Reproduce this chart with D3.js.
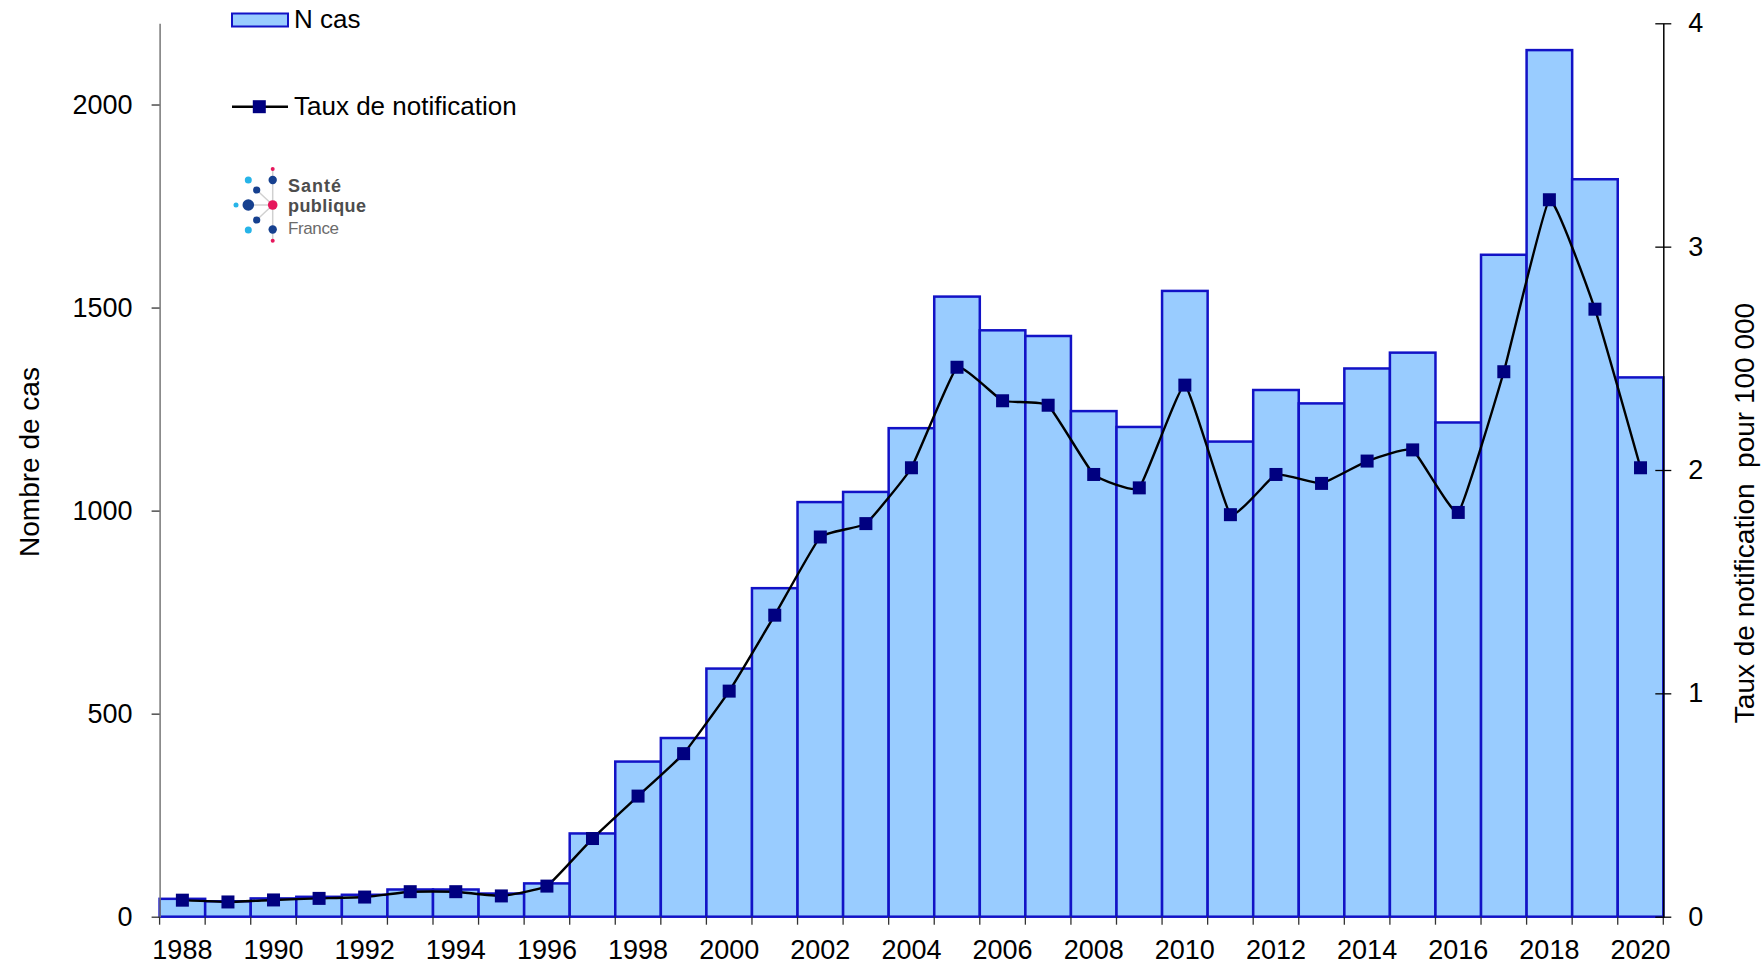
<!DOCTYPE html>
<html>
<head>
<meta charset="utf-8">
<script src="https://cdn.jsdelivr.net/npm/d3@7"></script>
<style>
  body { margin: 0; background: #fff; }
  text { font-family: "Liberation Sans", Arial, sans-serif; }
</style>
</head>
<body>
<div id="chart"></div>
<script>
const years = d3.range(1988, 2021);
const cases = [44, 38, 45, 49, 54, 67, 67, 57, 82, 205, 382, 440, 611, 809, 1021, 1046,
    1203, 1527, 1444, 1430, 1245, 1206, 1541, 1170, 1297, 1264, 1350, 1389, 1217, 1630, 2134, 1816, 1328];
const rates = [0.074, 0.066, 0.075, 0.082, 0.088, 0.112, 0.112, 0.093, 0.137, 0.35, 0.54, 0.73, 1.01, 1.35, 1.70, 1.76,
    2.01, 2.46, 2.31, 2.29, 1.98, 1.92, 2.38, 1.80, 1.98, 1.94, 2.04, 2.09, 1.81, 2.44, 3.21, 2.72, 2.01];
const leftTicks = [0, 500, 1000, 1500, 2000];
const rightTicks = [0, 1, 2, 3, 4];
const yearLabels = years.filter(y => y % 2 === 0);

const W = 1762, H = 965;
const margin = {top: 23.3, right: 98.7, bottom: 48.3, left: 159.6};
const x0 = margin.left, x1 = W - margin.right;
const y0 = H - margin.bottom, y1 = margin.top;

const barFill = '#99ccff', barStroke = '#1212c6', markerFill = '#000080';

const svg = d3.select('#chart').append('svg')
    .attr('width', W)
    .attr('height', H);

// Echelles
const x = d3.scaleBand().domain(years).range([x0, x1]).padding(0);
const yL = d3.scaleLinear().domain([0, 2200]).range([y0, y1]);
const yR = d3.scaleLinear().domain([0, 4]).range([y0, y1]);

const data = years.map((year, i) => ({year: year, n: cases[i], rate: rates[i]}));

// Barres
svg.append('g').selectAll('rect')
    .data(data)
    .enter()
    .append('rect')
    .attr('x', d => x(d.year))
    .attr('y', d => yL(d.n))
    .attr('width', x.bandwidth())
    .attr('height', d => yL(0) - yL(d.n))
    .attr('fill', barFill)
    .attr('stroke', barStroke)
    .attr('stroke-width', 2.5);

// Axe X : graduations entre les catégories
const xAxisG = svg.append('g');
xAxisG.selectAll('line')
    .data(years.map(y => x(y)).concat([x1]))
    .enter()
    .append('line')
    .attr('x1', d => d).attr('x2', d => d)
    .attr('y1', y0).attr('y2', y0 + 8)
    .attr('stroke', '#333')
    .attr('stroke-width', 1.3);

svg.append('g')
    .attr('transform', `translate(0,${y0})`)
    .call(d3.axisBottom(x).tickValues(yearLabels).tickSize(0).tickPadding(23).tickFormat(d3.format('d')))
    .call(g => g.select('.domain').remove())
    .call(g => g.selectAll('text').attr('font-size', 27).attr('fill', '#000')
        .attr('font-family', '"Liberation Sans", Arial, sans-serif'));

// Courbe du taux (lissée)
const line = d3.line()
    .x(d => x(d.year) + x.bandwidth() / 2)
    .y(d => yR(d.rate))
    .curve(d3.curveCardinal.tension(0.65));

svg.append('path')
    .datum(data)
    .attr('d', line)
    .attr('fill', 'none')
    .attr('stroke', '#000')
    .attr('stroke-width', 2.4);

svg.append('g').selectAll('rect')
    .data(data)
    .enter()
    .append('rect')
    .attr('x', d => x(d.year) + x.bandwidth() / 2 - 6.5)
    .attr('y', d => yR(d.rate) - 6.5)
    .attr('width', 13)
    .attr('height', 13)
    .attr('fill', markerFill);

// Axe gauche
svg.append('g')
    .attr('transform', `translate(${x0},0)`)
    .call(d3.axisLeft(yL).tickValues(leftTicks).tickFormat(d3.format('d'))
        .tickSizeInner(8).tickSizeOuter(0).tickPadding(19))
    .call(g => g.select('.domain').attr('stroke', '#777').attr('stroke-width', 1.5))
    .call(g => g.selectAll('.tick line').attr('stroke', '#333').attr('stroke-width', 1.3))
    .call(g => g.selectAll('text').attr('font-size', 27).attr('fill', '#000')
        .attr('font-family', '"Liberation Sans", Arial, sans-serif'));

// Axe droit
svg.append('g')
    .attr('transform', `translate(${x1},0)`)
    .call(d3.axisRight(yR).tickValues(rightTicks).tickFormat(d3.format('d'))
        .tickSizeInner(8).tickSizeOuter(0).tickPadding(17))
    .call(g => g.select('.domain').attr('stroke', '#000').attr('stroke-width', 1.5))
    .call(g => g.selectAll('.tick line').attr('x1', -8).attr('x2', 8).attr('stroke', '#000').attr('stroke-width', 1.3))
    .call(g => g.selectAll('text').attr('font-size', 27).attr('fill', '#000')
        .attr('font-family', '"Liberation Sans", Arial, sans-serif'));

// Titres des axes
svg.append('text')
    .attr('transform', `translate(39,462) rotate(-90)`)
    .attr('text-anchor', 'middle')
    .attr('font-size', 28)
    .text('Nombre de cas');

svg.append('text')
    .attr('transform', `translate(1754,513) rotate(-90)`)
    .attr('text-anchor', 'middle')
    .attr('font-size', 28)
    .attr('xml:space', 'preserve')
    .style('white-space', 'pre')
    .text('Taux de notification  pour 100 000');

// Légende
const legend = svg.append('g');
legend.append('rect')
    .attr('x', 232).attr('y', 13.5)
    .attr('width', 56).attr('height', 13)
    .attr('fill', barFill)
    .attr('stroke', barStroke)
    .attr('stroke-width', 2);
legend.append('text')
    .attr('x', 294).attr('y', 28)
    .attr('font-size', 26)
    .text('N cas');

legend.append('line')
    .attr('x1', 232).attr('x2', 288)
    .attr('y1', 106.7).attr('y2', 106.7)
    .attr('stroke', '#000')
    .attr('stroke-width', 2.4);
legend.append('rect')
    .attr('x', 259.3 - 6.5).attr('y', 106.7 - 6.5)
    .attr('width', 13).attr('height', 13)
    .attr('fill', markerFill);
legend.append('text')
    .attr('x', 294).attr('y', 115)
    .attr('font-size', 26)
    .text('Taux de notification');

// Logo Santé publique France
const logo = svg.append('g');
const cx = 272.7;
[[cx, 169, cx, 241], [248.3, 205, cx, 205], [256.7, 190, cx, 205], [256.7, 220, cx, 205]].forEach(l => {
    logo.append('line')
        .attr('x1', l[0]).attr('y1', l[1]).attr('x2', l[2]).attr('y2', l[3])
        .attr('stroke', '#d0d0d0').attr('stroke-width', 1.5);
});
const dots = [
    [cx, 169, 2, '#e6175c'],
    [cx, 180, 4.2, '#16408f'],
    [248.3, 180, 3.5, '#27b4e8'],
    [256.7, 190, 3.6, '#16408f'],
    [248.3, 205, 5.8, '#16408f'],
    [236, 205, 2.5, '#27b4e8'],
    [cx, 205, 4.8, '#e6175c'],
    [256.7, 220, 3.6, '#16408f'],
    [248.3, 230, 3.5, '#27b4e8'],
    [cx, 229.5, 4.2, '#16408f'],
    [cx, 240.7, 2, '#e6175c']
];
logo.selectAll('circle')
    .data(dots)
    .enter()
    .append('circle')
    .attr('cx', d => d[0]).attr('cy', d => d[1]).attr('r', d => d[2])
    .attr('fill', d => d[3]);
logo.append('text')
    .attr('x', 288).attr('y', 192)
    .attr('font-family', 'Roboto, sans-serif')
    .attr('font-weight', 'bold')
    .attr('font-size', 18)
    .attr('fill', '#4d4d4d')
    .attr('textLength', 53)
    .text('Santé');
logo.append('text')
    .attr('x', 288).attr('y', 212)
    .attr('font-family', 'Roboto, sans-serif')
    .attr('font-weight', 'bold')
    .attr('font-size', 18)
    .attr('fill', '#4d4d4d')
    .attr('textLength', 78)
    .text('publique');
logo.append('text')
    .attr('x', 288).attr('y', 234)
    .attr('font-family', 'Roboto, sans-serif')
    .attr('font-size', 17)
    .attr('fill', '#6b6b6b')
    .attr('textLength', 51)
    .text('France');
</script>
</body>
</html>
